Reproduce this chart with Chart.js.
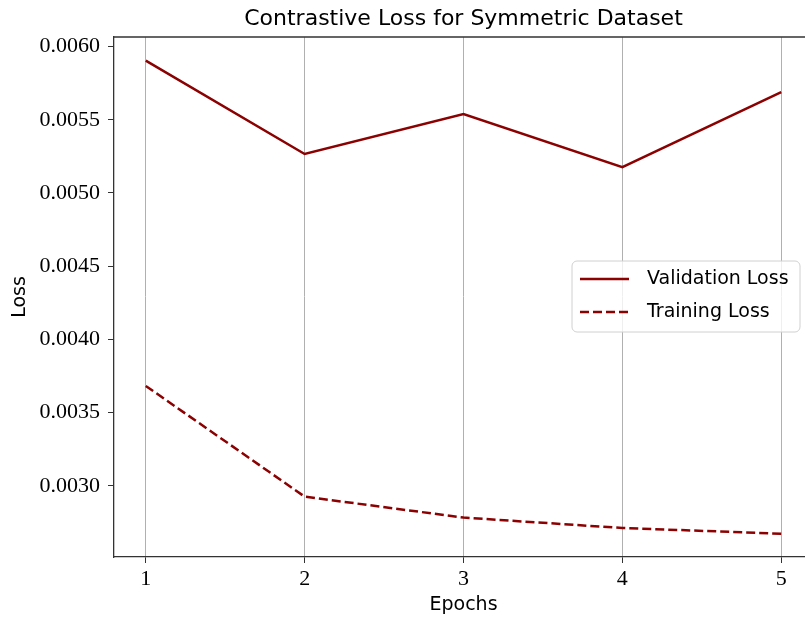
<!DOCTYPE html>
<html>
<head>
<meta charset="utf-8">
<script src="https://cdn.jsdelivr.net/npm/chart.js@4"></script>
<style>
  body { margin: 0; background: #fff; }
  #wrap { width: 805px; height: 617px; overflow: hidden; }
  canvas { display: block; }
</style>
</head>
<body>
<div id="wrap"><canvas id="myChart" width="830" height="617"></canvas></div>
<script>
const epochs = [1, 2, 3, 4, 5];
const validationLoss = [0.005904, 0.005266, 0.005539, 0.005177, 0.005689];
const trainingLoss = [0.003683, 0.002927, 0.002784, 0.002713, 0.002674];
const yTicks = [0.0030, 0.0035, 0.0040, 0.0045, 0.0050, 0.0055, 0.0060];

const red = "#8B0000";
const sans = "'DejaVu Sans', sans-serif";
const serif = "'Liberation Serif', serif";

// title centred over the plot area, plus the top spine and the boxed legend
const extras = {
  id: 'extras',
  afterDraw(chart) {
    const c = chart.ctx, a = chart.chartArea;
    c.save();
    c.strokeStyle = '#333';
    c.lineWidth = 1.3;
    c.beginPath();
    c.moveTo(a.left, a.top);
    c.lineTo(a.right, a.top);
    c.lineTo(a.right, a.bottom);
    c.stroke();

    c.fillStyle = '#000';
    c.font = "22px " + sans;
    c.textAlign = 'center';
    c.textBaseline = 'middle';
    c.fillText('Contrastive Loss for Symmetric Dataset', (a.left + a.right) / 2, 19);

    // legend
    const bx = a.right - 241, bw = 228, by = (a.top + a.bottom) / 2 - 36, bh = 71;
    c.beginPath();
    c.roundRect(bx, by, bw, bh, 5);
    c.fillStyle = 'rgba(255,255,255,0.8)';
    c.fill();
    c.strokeStyle = '#d0d0d0';
    c.lineWidth = 1;
    c.stroke();
    c.font = "19px " + sans;
    c.textAlign = 'left';
    chart.data.datasets.forEach((ds, i) => {
      const ry = by + 18 + i * 33;
      c.strokeStyle = ds.borderColor;
      c.lineWidth = ds.borderWidth;
      c.setLineDash(ds.borderDash || []);
      c.beginPath();
      c.moveTo(bx + 8, ry);
      c.lineTo(bx + 57, ry);
      c.stroke();
      c.setLineDash([]);
      c.fillStyle = '#000';
      c.fillText(ds.label, bx + 75, ry);
    });
    c.restore();
  }
};

new Chart(document.getElementById("myChart"), {
  type: 'line',
  data: {
    datasets: [
      {
        label: 'Validation Loss',
        data: epochs.map((e, i) => ({x: e, y: validationLoss[i]})),
        borderColor: red,
        borderWidth: 2.5,
        pointRadius: 0,
        tension: 0
      },
      {
        label: 'Training Loss',
        data: epochs.map((e, i) => ({x: e, y: trainingLoss[i]})),
        borderColor: red,
        borderWidth: 2.5,
        borderDash: [9, 4],
        pointRadius: 0,
        tension: 0
      }
    ]
  },
  options: {
    responsive: false,
    animation: false,
    layout: { padding: { top: 37, right: 17, left: 0, bottom: 0 } },
    plugins: {
      legend: { display: false },
      title: { display: false },
      tooltip: { enabled: false }
    },
    scales: {
      x: {
        type: 'linear',
        min: 0.8,
        max: 5.2,
        afterBuildTicks: s => { s.ticks = epochs.map(v => ({value: v})); },
        afterFit: s => { s.height = 60; },
        grid: { color: '#b0b0b0', lineWidth: 1, tickColor: '#333', tickLength: 6 },
        border: { color: '#333', width: 1.3 },
        ticks: { color: '#000', font: { family: serif, size: 22 }, padding: 3, maxRotation: 0 },
        title: { display: true, text: 'Epochs', color: '#000', font: { family: sans, size: 19 }, padding: { top: 0, bottom: 1 } }
      },
      y: {
        min: 0.002515,
        max: 0.006065,
        afterBuildTicks: s => { s.ticks = yTicks.map(v => ({value: v})); },
        afterFit: s => { s.width = 114; },
        grid: { drawOnChartArea: false, tickColor: '#333', tickLength: 6 },
        border: { color: '#333', width: 1.3 },
        ticks: { color: '#000', font: { family: serif, size: 22 }, padding: 8, callback: v => v.toFixed(4) },
        title: { display: true, text: 'Loss', color: '#000', font: { family: sans, size: 19 }, padding: { top: 9, bottom: 0 } }
      }
    }
  },
  plugins: [extras]
});
</script>
</body>
</html>
